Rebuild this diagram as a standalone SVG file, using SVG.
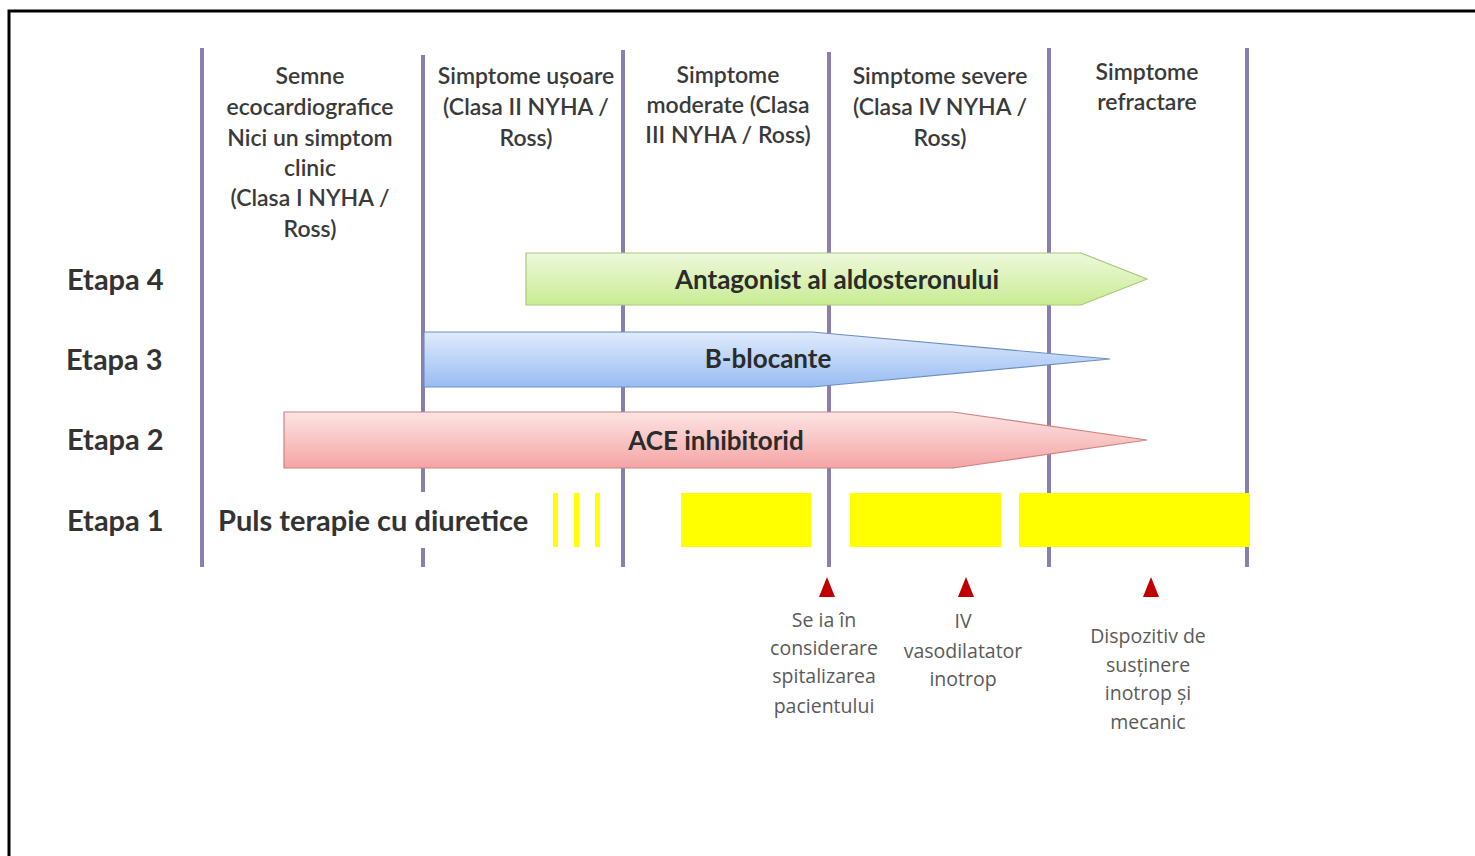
<svg xmlns="http://www.w3.org/2000/svg" width="1475" height="856" viewBox="0 0 1475 856">
<style>
.vl{stroke:#8a7fb0;stroke-width:4;fill:none}
.hdr{font-family:Lato,"Open Sans",sans-serif;font-size:23px;font-weight:600;fill:#3a3a3a;text-anchor:middle}
.etapa{font-family:Lato,"Open Sans",sans-serif;font-size:29px;font-weight:700;fill:#333}
.arrowlbl{font-family:Lato,"Open Sans",sans-serif;font-size:26px;font-weight:700;fill:#2b2b2b;text-anchor:middle}
.note{font-family:"Open Sans",Lato,sans-serif;font-size:19.5px;fill:#5a5a5a;text-anchor:middle}
.yel{fill:#ffff00}
.tri{fill:#c00000}
</style>
<defs>
<linearGradient id="gG" x1="0" y1="0" x2="0" y2="1"><stop offset="0" stop-color="#eef8dc"/><stop offset="1" stop-color="#c9ec93"/></linearGradient>
<linearGradient id="gB" x1="0" y1="0" x2="0" y2="1"><stop offset="0" stop-color="#e0ebfc"/><stop offset="1" stop-color="#98bcf2"/></linearGradient>
<linearGradient id="gR" x1="0" y1="0" x2="0" y2="1"><stop offset="0" stop-color="#fde4e4"/><stop offset="1" stop-color="#f5a4a4"/></linearGradient>
</defs>
<rect width="1475" height="856" fill="#fff"/>
<g id="frame"><path d="M9,856 V11 H1475" fill="none" stroke="#000" stroke-width="3"/></g>
<g id="columns">
<line class="vl" x1="202" y1="48" x2="202" y2="567"/>
<line class="vl" x1="423" y1="55" x2="423" y2="492"/>
<line class="vl" x1="423" y1="548" x2="423" y2="567"/>
<line class="vl" x1="623" y1="50" x2="623" y2="567"/>
<line class="vl" x1="829" y1="52" x2="829" y2="567"/>
<line class="vl" x1="1049" y1="48" x2="1049" y2="567"/>
<line class="vl" x1="1247" y1="48" x2="1247" y2="567"/>
</g>
<g id="headers">
<text class="hdr" x="310" y="84">Semne</text>
<text class="hdr" x="310" y="115">ecocardiografice</text>
<text class="hdr" x="310" y="146">Nici un simptom</text>
<text class="hdr" x="310" y="176">clinic</text>
<text class="hdr" x="310" y="206">(Clasa I NYHA /</text>
<text class="hdr" x="310" y="237">Ross)</text>
<text class="hdr" x="526" y="84">Simptome ușoare</text>
<text class="hdr" x="526" y="115">(Clasa II NYHA /</text>
<text class="hdr" x="526" y="146">Ross)</text>
<text class="hdr" x="728" y="83">Simptome</text>
<text class="hdr" x="728" y="113">moderate (Clasa</text>
<text class="hdr" x="728" y="143">III NYHA / Ross)</text>
<text class="hdr" x="940" y="84">Simptome severe</text>
<text class="hdr" x="940" y="115">(Clasa IV NYHA /</text>
<text class="hdr" x="940" y="146">Ross)</text>
<text class="hdr" x="1147" y="80">Simptome</text>
<text class="hdr" x="1147" y="110">refractare</text>
</g>
<g id="etape">
<text class="etapa" x="67" y="290">Etapa 4</text>
<text class="etapa" x="66" y="370">Etapa 3</text>
<text class="etapa" x="67" y="450">Etapa 2</text>
<text class="etapa" x="67" y="531">Etapa 1</text>
</g>
<g id="arrow-aldosteron">
<polygon points="526,253 1081,253 1147,279 1081,305 526,305" fill="url(#gG)" stroke="#a9c97a" stroke-width="1.2"/>
<text class="arrowlbl" x="837" y="289">Antagonist al aldosteronului</text>
</g>
<g id="arrow-bblocante">
<polygon points="424,332 812,332 1110,359 812,387 424,387" fill="url(#gB)" stroke="#6f8fc4" stroke-width="1.2"/>
<text class="arrowlbl" x="768" y="368">B-blocante</text>
</g>
<g id="arrow-ace">
<polygon points="284,412 953,412 1147,440 953,468 284,468" fill="url(#gR)" stroke="#d08383" stroke-width="1.2"/>
<text class="arrowlbl" x="716" y="450">ACE inhibitorid</text>
</g>
<g id="etapa1">
<text class="etapa" x="218" y="531" font-size="29.5">Puls terapie cu diuretice</text>
<rect class="yel" x="553" y="493" width="5" height="54"/>
<rect class="yel" x="574" y="493" width="5" height="54"/>
<rect class="yel" x="595" y="493" width="5" height="54"/>
<rect class="yel" x="681" y="493" width="130" height="54"/>
<rect class="yel" x="850" y="493" width="151" height="54"/>
<rect class="yel" x="1019" y="493" width="231" height="54"/>
</g>
<g id="markers">
<polygon class="tri" points="827,577 819,597 835,597"/>
<polygon class="tri" points="966,577 958,597 974,597"/>
<polygon class="tri" points="1151,577 1143,597 1159,597"/>
</g>
<g id="notes">
<text class="note" x="824" y="627">Se ia în</text>
<text class="note" x="824" y="655">considerare</text>
<text class="note" x="824" y="683">spitalizarea</text>
<text class="note" x="824" y="713">pacientului</text>
<text class="note" x="963" y="628">IV</text>
<text class="note" x="963" y="658">vasodilatator</text>
<text class="note" x="963" y="686">inotrop</text>
<text class="note" x="1148" y="643">Dispozitiv de</text>
<text class="note" x="1148" y="672">susținere</text>
<text class="note" x="1148" y="700">inotrop și</text>
<text class="note" x="1148" y="729">mecanic</text>
</g>
</svg>
